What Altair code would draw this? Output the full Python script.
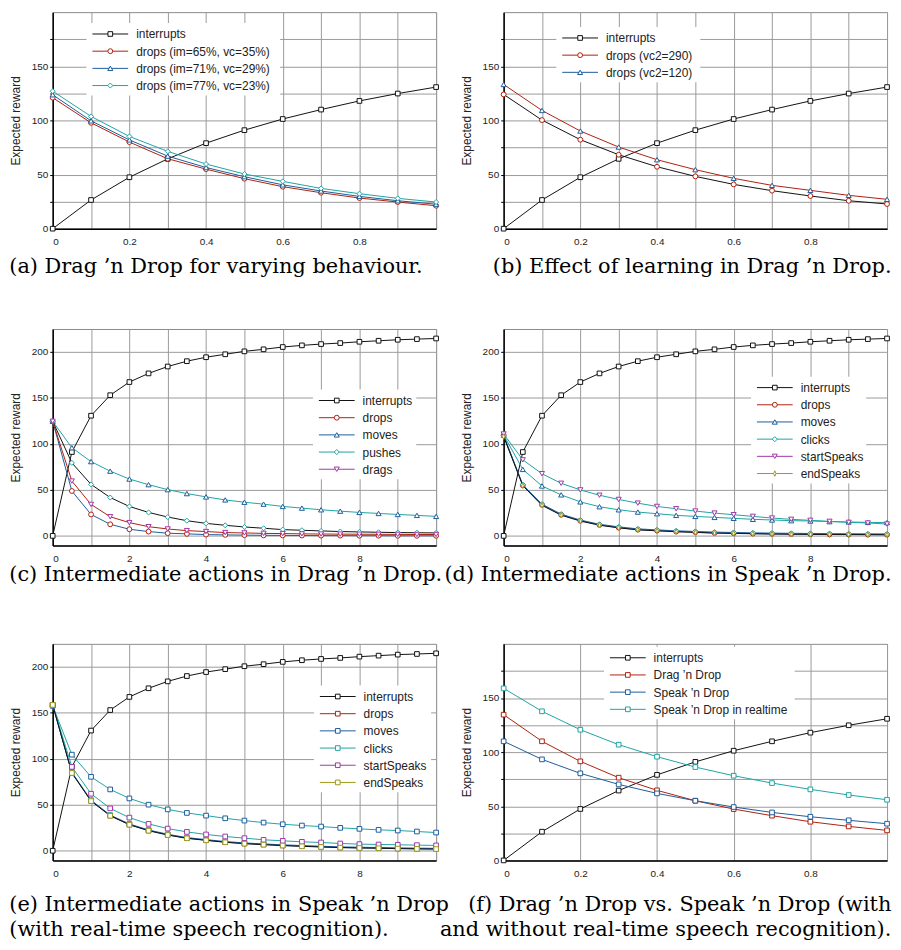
import altair as alt
import pandas as pd

# ---------------- data ----------------
X_FRAC = [0.0, 0.1, 0.2, 0.3, 0.4, 0.5, 0.6, 0.7, 0.8, 0.9, 1.0]
X_TIME = [0.0, 0.5, 1.0, 1.5, 2.0, 2.5, 3.0, 3.5, 4.0, 4.5, 5.0,
          5.5, 6.0, 6.5, 7.0, 7.5, 8.0, 8.5, 9.0, 9.5, 10.0]

interrupts_frac = [0, 26.5, 47.5, 64.5, 79, 91, 101.3, 110, 118, 124.8, 130.8]
a_drops65 = [121, 97.8, 80, 64.6, 55, 46.2, 38.8, 33.2, 28.3, 24.6, 21.2]
a_drops71 = [123.7, 99.6, 82, 67, 56.5, 48, 40.5, 34.8, 29.8, 25.8, 22.6]
a_drops77 = [127, 103.7, 85.2, 71.4, 59.7, 50.5, 43.7, 37.2, 32.3, 28, 24.6]

b_drops290 = [124, 100.3, 82.2, 68.3, 57.2, 48.3, 40.9, 35.1, 30.2, 25.8, 22.8]
b_drops120 = [133.2, 109.2, 90.2, 75.4, 63.7, 54.5, 46.5, 40, 35.4, 30.8, 27.1]

interrupts_time = [0, 91.2, 130.7, 153, 167.3, 176.7, 184.2, 190, 194.3, 197.5, 200.7,
                   202.9, 205.4, 207.2, 208.6, 209.7, 211.1, 212.2, 213.3, 214, 214.7]
c_drops = [124.6, 48.8, 23.3, 12.6, 7.2, 4.7, 2.9, 2.2, 1.4, 1.1, 0.8,
           0.6, 0.5, 0.4, 0.3, 0.3, 0.2, 0.2, 0.1, 0.1, 0.1]
c_moves = [124.6, 95.9, 80.8, 70.4, 61.8, 55.7, 50.3, 46, 42.4, 39.1, 36.6,
           34.5, 32, 30.2, 28.4, 26.9, 25.5, 24.4, 23.3, 22.3, 21.2]
c_pushes = [124.6, 79.4, 56, 41.7, 32, 25.5, 20.5, 16.5, 13.6, 11.5, 9.7,
            8.3, 6.8, 6.1, 5.4, 4.7, 4.3, 3.9, 3.6, 3.4, 3.2]
c_drags = [124.6, 59.6, 34.2, 20.8, 14.4, 10, 7.5, 5.7, 4.7, 3.6, 3.2,
           2.7, 2.5, 2.2, 2.0, 1.9, 1.8, 1.7, 1.6, 1.5, 1.5]

d_drops = [109.5, 55, 33.8, 23, 16.5, 11.9, 9, 6.8, 5.8, 4.7, 4,
           3.2, 2.9, 2.5, 2.2, 2.0, 1.8, 1.6, 1.5, 1.4, 1.3]
d_moves = [109.7, 72.3, 54.3, 44.6, 37, 31.7, 28.4, 25.9, 24.1, 22.3, 21.2,
           20.1, 19.1, 18, 17.3, 16.5, 16.2, 15.5, 15.1, 14.7, 14.4]
d_clicks = [108.8, 55.6, 34.5, 23.6, 17.2, 12.6, 9.8, 7.6, 6.5, 5.5, 4.8,
            4.1, 3.7, 3.3, 3.0, 2.8, 2.6, 2.4, 2.3, 2.2, 2.1]
d_startSpeaks = [110.8, 82.7, 67.6, 57.2, 50, 44.2, 39.6, 35.6, 32, 29.5, 27,
                 24.8, 23, 21.2, 19.4, 18, 16.9, 15.8, 14.7, 14, 12.9]
d_endSpeaks = [108, 54.5, 33.2, 22.5, 16.1, 11.6, 8.7, 6.6, 5.5, 4.5, 3.8,
               3.0, 2.7, 2.3, 2.0, 1.8, 1.6, 1.5, 1.4, 1.3, 1.2]

e_drops = [158.6, 84.7, 54.4, 38.2, 28.5, 22, 17.3, 13.7, 11.5, 9.4, 7.9,
           6.8, 5.8, 5, 4.3, 3.6, 3.2, 2.9, 2.5, 2.2, 2.0]
e_moves = [157.5, 104.5, 80.4, 66.7, 56.9, 50.1, 45, 41.1, 38.2, 35.3, 32.8,
           30.6, 28.8, 27.4, 26.3, 24.9, 23.8, 22.7, 22, 20.9, 19.8]
e_clicks = [158.6, 85.2, 55, 38.8, 29.1, 22.6, 17.9, 14.3, 12.1, 10, 8.5,
            7.4, 6.4, 5.6, 4.9, 4.2, 3.8, 3.5, 3.1, 2.8, 2.6]
e_startSpeaks = [158.6, 91.2, 62, 46.1, 36, 29.2, 24.1, 20.5, 17.7, 15.5, 13.7,
                 11.9, 10.8, 9.7, 9, 7.9, 7.2, 6.8, 6.5, 6.1, 5.8]
e_endSpeaks = [158.6, 84.5, 54, 38, 28.3, 21.8, 17.1, 13.5, 11.3, 9.2, 7.7,
               6.6, 5.6, 4.8, 4.1, 3.4, 3.0, 2.7, 2.3, 2.0, 1.8]

f_dragndrop = [134.6, 110, 91.5, 76.4, 64.7, 55.1, 47.4, 41.3, 35.7, 31.4, 27.7]
f_speakndrop = [110, 93.3, 80.4, 70.2, 61.9, 55.1, 49.3, 44.3, 40.3, 37, 33.9]
f_speakndrop_rt = [158.9, 137.7, 120.7, 106.9, 95.8, 86.2, 78.2, 71.4, 65.6, 60.4, 56]

captions = {
    "a": "(a) Drag \u2019n Drop for varying behaviour.",
    "b": "(b) Effect of learning in Drag \u2019n Drop.",
    "c": "(c) Intermediate actions in Drag \u2019n Drop.",
    "d": "(d) Intermediate actions in Speak \u2019n Drop.",
    "e": ["(e) Intermediate actions in Speak \u2019n Drop", "(with real-time speech recognition)."],
    "f": ["(f) Drag \u2019n Drop vs. Speak \u2019n Drop (with", "and without real-time speech recognition)."],
}

# ---------------- styles ----------------
BLACK = "#111111"
RED = "#ae2010"
BLUE = "#1d5d9c"
TEAL = "#1fa3a3"
PURPLE = "#a236a8"
OLIVE = "#9c9a16"

GRID = "#9a9a9a"
SANS = "Liberation Sans"
SERIF = "DejaVu Serif"

PT = {
    "square": ("square", 22),
    "circle": ("circle", 24),
    "tri_up": ("triangle-up", 26),
    "diamond": ("diamond", 26),
    "tri_down": ("triangle-down", 26),
    "thin": ("M0,-1L0.45,0L0,1L-0.45,0Z", 30),
}

W, H = 386, 218
ROW_H = 17.3


def panel(xs, series, xdom, ydom, xvals, xlab, yvals, ylab,
          lx, first_row, box_w, caption, anchor, cap_offset):
    rows = []
    for name, ys, _, _ in series:
        for xv, yv in zip(xs, ys):
            rows.append({"x": xv, "y": yv, "s": name})
    df = pd.DataFrame(rows)
    names = [s[0] for s in series]
    cols = [s[2] for s in series]

    X = alt.X("x:Q", scale=alt.Scale(domain=xdom, nice=False, zero=False),
              axis=alt.Axis(values=xvals, labelExpr=xlab, title=None, ticks=False,
                            labelPadding=8, grid=True, gridColor=GRID))
    Y = alt.Y("y:Q", scale=alt.Scale(domain=ydom, nice=False, zero=False),
              axis=alt.Axis(values=yvals, labelExpr=ylab, title="Expected reward",
                            grid=True, gridColor=GRID, tickSize=3, labelPadding=2,
                            titlePadding=9))
    base = alt.Chart(df)
    line = base.mark_line(strokeWidth=1).encode(
        X, Y,
        color=alt.Color("s:N", scale=alt.Scale(domain=names, range=cols), legend=None),
    )
    layers = [line]
    for name, _, col, mk in series:
        shp, sz = PT[mk]
        layers.append(
            base.transform_filter(alt.datum.s == name)
            .mark_point(shape=shp, size=sz, filled=True, fill="white", stroke=col,
                        strokeWidth=1, opacity=1)
            .encode(X, Y)
        )

    # ---- legend box (white, no border), entries: line + marker + label ----
    n = len(series)
    top_y = first_row - 11
    bot_y = first_row + (n - 1) * ROW_H + 10
    layers.append(
        alt.Chart(pd.DataFrame({"s": [names[0]]})).mark_rect(fill="white").encode(
            x=alt.value(lx), x2=alt.value(lx + box_w),
            y=alt.value(top_y), y2=alt.value(bot_y))
    )
    for i, (name, _, col, mk) in enumerate(series):
        cy = first_row + i * ROW_H
        one = alt.Chart(pd.DataFrame({"s": [name]}))
        shp, sz = PT[mk]
        layers.append(one.mark_rule(color=col, strokeWidth=1).encode(
            x=alt.value(lx + 6), x2=alt.value(lx + 42), y=alt.value(cy)))
        layers.append(one.mark_point(shape=shp, size=sz, filled=True, fill="white",
                                     stroke=col, strokeWidth=1, opacity=1).encode(
            x=alt.value(lx + 24), y=alt.value(cy)))
        layers.append(one.mark_text(align="left", baseline="middle", font=SANS,
                                    fontSize=12, color="#222222").encode(
            x=alt.value(lx + 50), y=alt.value(cy + 0.5), text="s:N"))

    align = {"start": "left", "middle": "center", "end": "right"}[anchor]
    return alt.layer(*layers).properties(
        width=W, height=H,
        title=alt.TitleParams(caption, orient="bottom", anchor=anchor, align=align,
                              offset=cap_offset, font=SERIF, fontSize=21,
                              fontWeight="normal", color="black", lineHeight=25),
    )


FRAC_X_ALL = [0.0, 0.1, 0.2, 0.3, 0.4, 0.5, 0.6, 0.7, 0.8, 0.9, 1.0]
FRAC_X_FIVE = [0.0, 0.2, 0.4, 0.6, 0.8, 1.0]
FRAC_LAB = ("datum.value < 0.95 && round(datum.value * 10) % 2 == 0 ? "
            "(datum.value == 0 ? '0' : format(datum.value, '.1f')) : ''")
TIME_X = [0, 1, 2, 3, 4, 5, 6, 7, 8, 9, 10]
TIME_LAB = "datum.value < 9.5 && datum.value % 2 == 0 ? format(datum.value, 'd') : ''"
Y200 = [0, 25, 50, 75, 100, 125, 150, 175]
Y200_LAB = "datum.value % 50 == 0 ? format(datum.value, 'd') : ''"
Y225 = [0, 50, 100, 150, 200]
Y225_LAB = "format(datum.value, 'd')"

pa = panel(X_FRAC, [("interrupts", interrupts_frac, BLACK, "square"),
                    ("drops (im=65%, vc=35%)", a_drops65, RED, "circle"),
                    ("drops (im=71%, vc=29%)", a_drops71, BLUE, "tri_up"),
                    ("drops (im=77%, vc=23%)", a_drops77, TEAL, "diamond")],
           [0, 1], [0, 200], FRAC_X_ALL, FRAC_LAB, Y200, Y200_LAB,
           34, 22, 195, captions["a"], "start", 10)
pb = panel(X_FRAC, [("interrupts", interrupts_frac, BLACK, "square"),
                    ("drops (vc2=290)", b_drops290, RED, "circle"),
                    ("drops (vc2=120)", b_drops120, BLUE, "tri_up")],
           [0, 1], [0, 200], FRAC_X_ALL, FRAC_LAB, Y200, Y200_LAB,
           53, 26, 145, captions["b"], "end", 10)
pc = panel(X_TIME, [("interrupts", interrupts_time, BLACK, "square"),
                    ("drops", c_drops, RED, "circle"),
                    ("moves", c_moves, BLUE, "tri_up"),
                    ("pushes", c_pushes, TEAL, "diamond"),
                    ("drags", c_drags, PURPLE, "tri_down")],
           [0, 10], [-10.5, 225], TIME_X, TIME_LAB, Y225, Y225_LAB,
           262, 72, 104, captions["c"], "start", 1)
pd_ = panel(X_TIME, [("interrupts", interrupts_time, BLACK, "square"),
                     ("drops", d_drops, RED, "circle"),
                     ("moves", d_moves, BLUE, "tri_up"),
                     ("clicks", d_clicks, TEAL, "diamond"),
                     ("startSpeaks", d_startSpeaks, PURPLE, "tri_down"),
                     ("endSpeaks", d_endSpeaks, OLIVE, "thin")],
            [0, 10], [-10.5, 225], TIME_X, TIME_LAB, Y225, Y225_LAB,
            249, 59, 116, captions["d"], "end", 1)
pe = panel(X_TIME, [("interrupts", interrupts_time, BLACK, "square"),
                    ("drops", e_drops, RED, "square"),
                    ("moves", e_moves, BLUE, "square"),
                    ("clicks", e_clicks, TEAL, "square"),
                    ("startSpeaks", e_startSpeaks, PURPLE, "square"),
                    ("endSpeaks", e_endSpeaks, OLIVE, "square")],
           [0, 10], [-10.5, 225], TIME_X, TIME_LAB, Y225, Y225_LAB,
           263, 53, 118, captions["e"], "start", 16)
pf = panel(X_FRAC, [("interrupts", interrupts_frac, BLACK, "square"),
                    ("Drag \u2019n Drop", f_dragndrop, RED, "square"),
                    ("Speak \u2019n Drop", f_speakndrop, BLUE, "square"),
                    ("Speak \u2019n Drop in realtime", f_speakndrop_rt, TEAL, "square")],
           [0, 1], [0, 200], FRAC_X_FIVE, FRAC_LAB, Y200, Y200_LAB,
           101, 14, 192, captions["f"], "end", 16)

# rows: plot areas placed 68 px apart, captions may overhang into the gap
row1 = alt.hconcat(pa, pb, spacing=68, bounds="flush")
row2 = alt.hconcat(pc, pd_, spacing=68, bounds="flush")
row3 = alt.hconcat(pe, pf, spacing=68, bounds="flush")
top = alt.vconcat(row1, row2, spacing=50)

chart = (
    alt.vconcat(top, row3, spacing=57)
    .properties(padding={"left": 0, "top": 0, "right": 0, "bottom": 0})
    .configure_view(stroke="#8a8a8a", strokeWidth=1)
    .configure_axis(labelFont=SANS, labelFontSize=10, labelColor="#222222",
                    titleFont=SANS, titleFontSize=12, titleFontWeight="normal",
                    titleColor="#222222", domainColor="black", domainWidth=1.5,
                    tickColor="black", gridWidth=1, gridOpacity=1)
)

chart.save("out.html", embed_options={"renderer": "svg", "actions": False})
